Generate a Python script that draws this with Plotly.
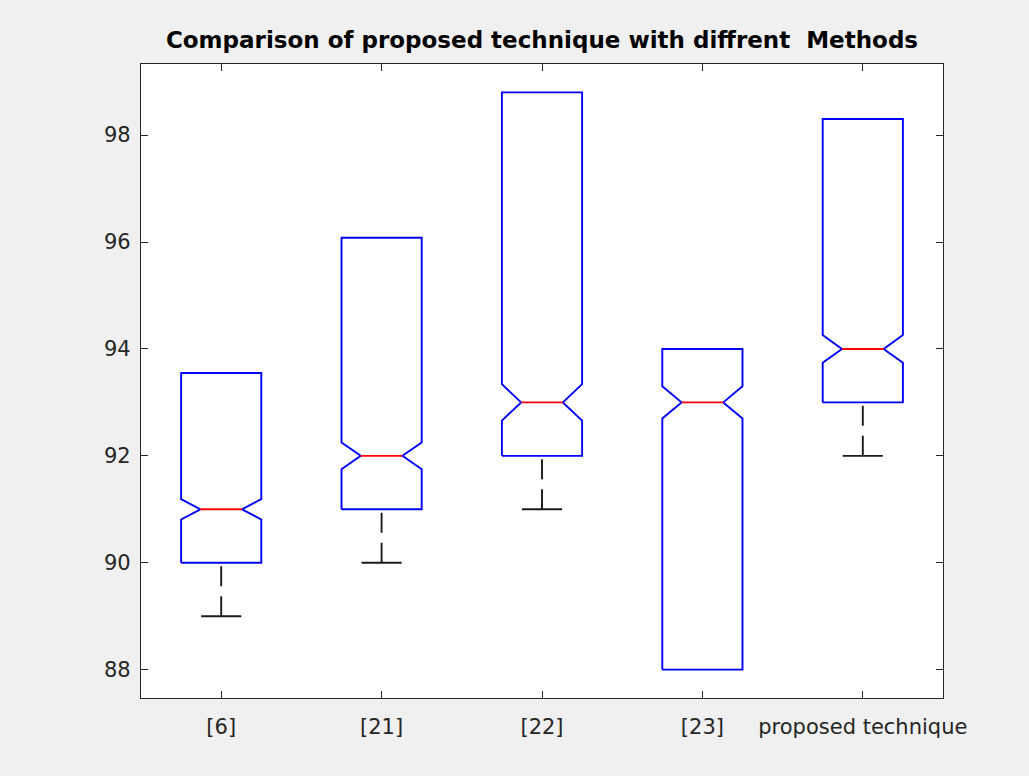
import plotly.graph_objects as go

categories = ["[6]", "[21]", "[22]", "[23]", "proposed technique"]
q1 = [90.0, 91.0, 92.0, 88.0, 93.0]
median = [91.0, 92.0, 93.0, 93.0, 94.0]
q3 = [93.55, 96.08, 98.8, 94.0, 98.3]
lower_whisker = [89.0, 90.0, 91.0, 88.0, 92.0]
upper_whisker = [93.55, 96.08, 98.8, 94.0, 98.3]
notch_half = [0.19, 0.25, 0.34, 0.30, 0.26]
y_ticks = [88, 90, 92, 94, 96, 98]

BOX_HALF = 0.25
NOTCH_HALF_W = 0.13
CAP_HALF = 0.125
AX = "#262626"
LW = 1.9

fig = go.Figure()

# whiskers and caps (only where the whisker extends beyond the box)
for i, cat in enumerate(categories):
    x = i + 1
    for end, start in ((lower_whisker[i], q1[i]), (upper_whisker[i], q3[i])):
        if end == start:
            continue
        fig.add_trace(go.Scatter(x=[x, x], y=[end, start], mode="lines",
                                 line=dict(color="#1a1a1a", width=LW, dash="20px,10px"),
                                 hoverinfo="skip", showlegend=False))
        fig.add_trace(go.Scatter(x=[x - CAP_HALF, x + CAP_HALF], y=[end, end], mode="lines",
                                 line=dict(color="#1a1a1a", width=LW),
                                 hoverinfo="skip", showlegend=False))

# notched boxes
for i, cat in enumerate(categories):
    x = i + 1
    m, n, a, b = median[i], notch_half[i], q1[i], q3[i]
    xs = [x - BOX_HALF, x - BOX_HALF, x - NOTCH_HALF_W, x - BOX_HALF, x - BOX_HALF,
          x + BOX_HALF, x + BOX_HALF, x + NOTCH_HALF_W, x + BOX_HALF, x + BOX_HALF, x - BOX_HALF]
    ys = [a, m - n, m, m + n, b, b, m + n, m, m - n, a, a]
    fig.add_trace(go.Scatter(x=xs, y=ys, mode="lines",
                             line=dict(color="#0000FF", width=LW),
                             name=cat, showlegend=False))
    fig.add_trace(go.Scatter(x=[x - NOTCH_HALF_W, x + NOTCH_HALF_W], y=[m, m], mode="lines",
                             line=dict(color="#FF0000", width=LW),
                             hoverinfo="skip", showlegend=False))

fig.update_layout(
    width=1029, height=776,
    margin=dict(l=141, r=86, t=64, b=78),
    paper_bgcolor="#F0F0F0", plot_bgcolor="white",
    font=dict(family="DejaVu Sans, sans-serif", size=21, color=AX),
    title=dict(text="Comparison of proposed technique with diffrent  Methods",
               x=0.5, xref="paper", xanchor="center",
               y=1 - 40 / 776, yref="container", yanchor="middle",
               font=dict(family="DejaVu Sans, sans-serif", size=23, color="black",
                         weight="bold")),
)
fig.update_xaxes(range=[0.5, 5.5], tickvals=[1, 2, 3, 4, 5], ticktext=categories,
                 showline=True, linecolor=AX, linewidth=1.3, mirror="ticks",
                 ticks="inside", ticklen=7, tickcolor=AX, tickwidth=1.3,
                 showgrid=False, zeroline=False, ticklabelstandoff=10)
fig.update_yaxes(range=[87.47, 99.33], tickvals=y_ticks,
                 showline=True, linecolor=AX, linewidth=1.3, mirror="ticks",
                 ticks="inside", ticklen=7, tickcolor=AX, tickwidth=1.3,
                 showgrid=False, zeroline=False, ticklabelstandoff=5)

fig.write_html("out.html")
